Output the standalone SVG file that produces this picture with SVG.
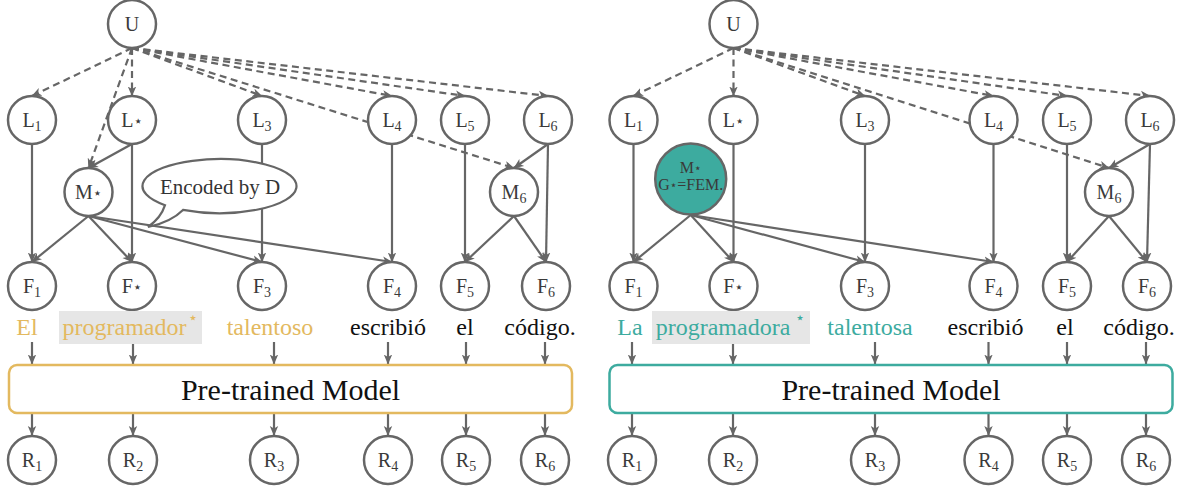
<svg xmlns="http://www.w3.org/2000/svg" width="1186" height="490" viewBox="0 0 1186 490">
<defs>
<style>
.n{fill:#fff;stroke:#666;stroke-width:2.5}
.e{stroke:#666;stroke-width:2.2;fill:none}
.d{stroke:#666;stroke-width:2.2;fill:none;stroke-dasharray:7 4.5}
.nl{font-family:'Liberation Serif','Times New Roman','DejaVu Serif',serif;font-size:20px;fill:#3a3a3a;text-anchor:middle}
.sub{font-size:14px}
.st{font-family:'DejaVu Sans',sans-serif;font-size:15px}
.w{font-family:'Liberation Serif','Times New Roman','DejaVu Serif',serif;font-size:24px;text-anchor:middle}
.gold{fill:#e3b95f}
.teal{fill:#3dab9f}
.blk{fill:#111}
.hl{fill:#e6e6e6}
.box{fill:#fff;stroke-width:2.5}
.bt{font-family:'Liberation Serif','Times New Roman','DejaVu Serif',serif;font-size:30px;fill:#111;text-anchor:middle}
.bb{font-family:'Liberation Serif','Times New Roman','DejaVu Serif',serif;font-size:21px;fill:#333;text-anchor:middle}
.ws{font-family:'DejaVu Sans',sans-serif;font-size:16px;text-anchor:middle}
</style>
<marker id="ah" viewBox="0 0 10 10" refX="9.5" refY="5" markerWidth="10" markerHeight="10" markerUnits="userSpaceOnUse" orient="auto">
<path d="M0,0.8 L10,5 L0,9.2 L2.6,5 z" fill="#666"/>
</marker>
</defs>
<rect width="1186" height="490" fill="#fff"/>

<g id="connectors">
<g marker-end="url(#ah)">
<line class="d" x1="132" y1="48" x2="32" y2="96"/>
<line class="d" x1="132" y1="48" x2="132" y2="96"/>
<line class="d" x1="132" y1="48" x2="262" y2="96"/>
<line class="d" x1="132" y1="48" x2="392" y2="96"/>
<line class="d" x1="132" y1="48" x2="465" y2="96"/>
<line class="d" x1="132" y1="48" x2="548" y2="96"/>
<line class="d" x1="132" y1="48" x2="88.5" y2="168"/>
<line class="d" x1="132" y1="48" x2="514" y2="168"/>
<line class="e" x1="32" y1="144" x2="32" y2="262"/>
<line class="e" x1="132" y1="144" x2="88.5" y2="168"/>
<line class="e" x1="132" y1="144" x2="132" y2="262"/>
<line class="e" x1="262" y1="144" x2="262" y2="262"/>
<line class="e" x1="392" y1="144" x2="392" y2="262"/>
<line class="e" x1="465" y1="144" x2="465" y2="262"/>
<line class="e" x1="548" y1="144" x2="546" y2="262"/>
<line class="e" x1="548" y1="144" x2="514" y2="168"/>
<line class="e" x1="88.5" y1="216" x2="32" y2="262"/>
<line class="e" x1="88.5" y1="216" x2="132" y2="262"/>
<line class="e" x1="88.5" y1="216" x2="262" y2="262"/>
<line class="e" x1="88.5" y1="216" x2="392" y2="262"/>
<line class="e" x1="514" y1="216" x2="465" y2="262"/>
<line class="e" x1="514" y1="216" x2="546" y2="262"/>
<line class="e" x1="32" y1="342" x2="32" y2="364"/>
<line class="e" x1="133" y1="342" x2="133" y2="364"/>
<line class="e" x1="274" y1="342" x2="274" y2="364"/>
<line class="e" x1="388" y1="342" x2="388" y2="364"/>
<line class="e" x1="466" y1="342" x2="466" y2="364"/>
<line class="e" x1="545" y1="342" x2="545" y2="364"/>
<line class="e" x1="32" y1="413" x2="32" y2="435.5"/>
<line class="e" x1="133" y1="413" x2="133" y2="435.5"/>
<line class="e" x1="274" y1="413" x2="274" y2="435.5"/>
<line class="e" x1="388" y1="413" x2="388" y2="435.5"/>
<line class="e" x1="466" y1="413" x2="466" y2="435.5"/>
<line class="e" x1="545" y1="413" x2="545" y2="435.5"/>

<line class="d" x1="733.5" y1="48" x2="633.5" y2="96"/>
<line class="d" x1="733.5" y1="48" x2="733.5" y2="96"/>
<line class="d" x1="733.5" y1="48" x2="865" y2="96"/>
<line class="d" x1="733.5" y1="48" x2="993.5" y2="96"/>
<line class="d" x1="733.5" y1="48" x2="1067" y2="96"/>
<line class="d" x1="733.5" y1="48" x2="1150" y2="96"/>
<line class="d" x1="733.5" y1="48" x2="1109" y2="168"/>
<line class="e" x1="633.5" y1="144" x2="633.5" y2="262"/>
<line class="e" x1="733.5" y1="144" x2="733.5" y2="262"/>
<line class="e" x1="865" y1="144" x2="865" y2="262"/>
<line class="e" x1="993.5" y1="144" x2="993.5" y2="262"/>
<line class="e" x1="1067" y1="144" x2="1067" y2="262"/>
<line class="e" x1="1150" y1="144" x2="1147" y2="262"/>
<line class="e" x1="1150" y1="144" x2="1109" y2="168"/>
<line class="e" x1="690.7" y1="215" x2="633.5" y2="262"/>
<line class="e" x1="690.7" y1="215" x2="733.5" y2="262"/>
<line class="e" x1="690.7" y1="215" x2="865" y2="262"/>
<line class="e" x1="690.7" y1="215" x2="993.5" y2="262"/>
<line class="e" x1="1109" y1="216" x2="1067" y2="262"/>
<line class="e" x1="1109" y1="216" x2="1147" y2="262"/>
<line class="e" x1="632" y1="342" x2="632" y2="364"/>
<line class="e" x1="733" y1="342" x2="733" y2="364"/>
<line class="e" x1="875" y1="342" x2="875" y2="364"/>
<line class="e" x1="988.5" y1="342" x2="988.5" y2="364"/>
<line class="e" x1="1067" y1="342" x2="1067" y2="364"/>
<line class="e" x1="1146" y1="342" x2="1146" y2="364"/>
<line class="e" x1="632" y1="413" x2="632" y2="435.5"/>
<line class="e" x1="733" y1="413" x2="733" y2="435.5"/>
<line class="e" x1="875" y1="413" x2="875" y2="435.5"/>
<line class="e" x1="988.5" y1="413" x2="988.5" y2="435.5"/>
<line class="e" x1="1067" y1="413" x2="1067" y2="435.5"/>
<line class="e" x1="1146" y1="413" x2="1146" y2="435.5"/>
</g>
</g>

<g id="L-U"><circle class="n" cx="132" cy="24" r="24"/><text class="nl" x="132" y="31">U</text></g>
<g id="L-L1"><circle class="n" cx="32" cy="120" r="24"/><text class="nl" x="32" y="127">L<tspan class="sub" dy="4">1</tspan></text></g>
<g id="L-Lstar"><circle class="n" cx="132" cy="120" r="24"/><text class="nl" x="132" y="127">L<tspan class="st" dy="-1">⋆</tspan></text></g>
<g id="L-L3"><circle class="n" cx="262" cy="120" r="24"/><text class="nl" x="262" y="127">L<tspan class="sub" dy="4">3</tspan></text></g>
<g id="L-L4"><circle class="n" cx="392" cy="120" r="24"/><text class="nl" x="392" y="127">L<tspan class="sub" dy="4">4</tspan></text></g>
<g id="L-L5"><circle class="n" cx="465" cy="120" r="24"/><text class="nl" x="465" y="127">L<tspan class="sub" dy="4">5</tspan></text></g>
<g id="L-L6"><circle class="n" cx="548" cy="120" r="24"/><text class="nl" x="548" y="127">L<tspan class="sub" dy="4">6</tspan></text></g>
<g id="L-Mstar"><circle class="n" cx="88.5" cy="192" r="24"/><text class="nl" x="88.5" y="199">M<tspan class="st" dy="-1">⋆</tspan></text></g>
<g id="L-M6"><circle class="n" cx="514" cy="192" r="24"/><text class="nl" x="514" y="199">M<tspan class="sub" dy="4">6</tspan></text></g>
<g id="L-F1"><circle class="n" cx="32" cy="286" r="24"/><text class="nl" x="32" y="293">F<tspan class="sub" dy="4">1</tspan></text></g>
<g id="L-Fstar"><circle class="n" cx="132" cy="286" r="24"/><text class="nl" x="132" y="293">F<tspan class="st" dy="-1">⋆</tspan></text></g>
<g id="L-F3"><circle class="n" cx="262" cy="286" r="24"/><text class="nl" x="262" y="293">F<tspan class="sub" dy="4">3</tspan></text></g>
<g id="L-F4"><circle class="n" cx="392" cy="286" r="24"/><text class="nl" x="392" y="293">F<tspan class="sub" dy="4">4</tspan></text></g>
<g id="L-F5"><circle class="n" cx="465" cy="286" r="24"/><text class="nl" x="465" y="293">F<tspan class="sub" dy="4">5</tspan></text></g>
<g id="L-F6"><circle class="n" cx="546" cy="286" r="24"/><text class="nl" x="546" y="293">F<tspan class="sub" dy="4">6</tspan></text></g>
<g id="L-R1"><circle class="n" cx="32" cy="460" r="24"/><text class="nl" x="32" y="467">R<tspan class="sub" dy="4">1</tspan></text></g>
<g id="L-R2"><circle class="n" cx="133" cy="460" r="24"/><text class="nl" x="133" y="467">R<tspan class="sub" dy="4">2</tspan></text></g>
<g id="L-R3"><circle class="n" cx="274" cy="460" r="24"/><text class="nl" x="274" y="467">R<tspan class="sub" dy="4">3</tspan></text></g>
<g id="L-R4"><circle class="n" cx="388" cy="460" r="24"/><text class="nl" x="388" y="467">R<tspan class="sub" dy="4">4</tspan></text></g>
<g id="L-R5"><circle class="n" cx="466" cy="460" r="24"/><text class="nl" x="466" y="467">R<tspan class="sub" dy="4">5</tspan></text></g>
<g id="L-R6"><circle class="n" cx="545" cy="460" r="24"/><text class="nl" x="545" y="467">R<tspan class="sub" dy="4">6</tspan></text></g>

<g id="L-bubble">
<path d="M183,209.9 A77,27 0 1 0 165,205.2 Q161,218 148,227 Q171,222 183,209.9 Z" fill="#fff" stroke="#666" stroke-width="2.2"/>
<text class="bb" x="220" y="194">Encoded by D</text>
</g>

<g id="L-words">
<rect class="hl" x="59" y="311" width="143" height="33"/>
<text class="w gold" x="27" y="335">El</text>
<text class="w gold" x="124.5" y="335">programador</text>
<text class="ws gold" x="193" y="323">⋆</text>
<text class="w gold" x="270" y="335">talentoso</text>
<text class="w blk" x="388" y="335">escribió</text>
<text class="w blk" x="465" y="335">el</text>
<text class="w blk" x="540" y="335">código.</text>
</g>
<g id="L-model">
<rect class="box" x="9" y="365" width="563" height="48" rx="8" stroke="#e3b95f"/>
<text class="bt" x="290.5" y="400">Pre-trained Model</text>
</g>

<g id="R-U"><circle class="n" cx="733.5" cy="24" r="24"/><text class="nl" x="733.5" y="31">U</text></g>
<g id="R-L1"><circle class="n" cx="633.5" cy="120" r="24"/><text class="nl" x="633.5" y="127">L<tspan class="sub" dy="4">1</tspan></text></g>
<g id="R-Lstar"><circle class="n" cx="733.5" cy="120" r="24"/><text class="nl" x="733.5" y="127">L<tspan class="st" dy="-1">⋆</tspan></text></g>
<g id="R-L3"><circle class="n" cx="865" cy="120" r="24"/><text class="nl" x="865" y="127">L<tspan class="sub" dy="4">3</tspan></text></g>
<g id="R-L4"><circle class="n" cx="993.5" cy="120" r="24"/><text class="nl" x="993.5" y="127">L<tspan class="sub" dy="4">4</tspan></text></g>
<g id="R-L5"><circle class="n" cx="1067" cy="120" r="24"/><text class="nl" x="1067" y="127">L<tspan class="sub" dy="4">5</tspan></text></g>
<g id="R-L6"><circle class="n" cx="1150" cy="120" r="24"/><text class="nl" x="1150" y="127">L<tspan class="sub" dy="4">6</tspan></text></g>
<g id="R-Mstar"><circle cx="690.7" cy="179" r="35.5" fill="#3dab9f" stroke="#666" stroke-width="2.5"/>
<text class="nl" x="690.7" y="173" style="font-size:16px">M<tspan class="st" style="font-size:12px" dy="-1">⋆</tspan></text>
<text class="nl" x="690.7" y="190" style="font-size:16px">G<tspan class="st" style="font-size:12px" dy="-1">⋆</tspan><tspan dy="1">=FEM.</tspan></text></g>
<g id="R-M6"><circle class="n" cx="1109" cy="192" r="24"/><text class="nl" x="1109" y="199">M<tspan class="sub" dy="4">6</tspan></text></g>
<g id="R-F1"><circle class="n" cx="633.5" cy="286" r="24"/><text class="nl" x="633.5" y="293">F<tspan class="sub" dy="4">1</tspan></text></g>
<g id="R-Fstar"><circle class="n" cx="733.5" cy="286" r="24"/><text class="nl" x="733.5" y="293">F<tspan class="st" dy="-1">⋆</tspan></text></g>
<g id="R-F3"><circle class="n" cx="865" cy="286" r="24"/><text class="nl" x="865" y="293">F<tspan class="sub" dy="4">3</tspan></text></g>
<g id="R-F4"><circle class="n" cx="993.5" cy="286" r="24"/><text class="nl" x="993.5" y="293">F<tspan class="sub" dy="4">4</tspan></text></g>
<g id="R-F5"><circle class="n" cx="1067" cy="286" r="24"/><text class="nl" x="1067" y="293">F<tspan class="sub" dy="4">5</tspan></text></g>
<g id="R-F6"><circle class="n" cx="1147" cy="286" r="24"/><text class="nl" x="1147" y="293">F<tspan class="sub" dy="4">6</tspan></text></g>
<g id="R-R1"><circle class="n" cx="632" cy="460" r="24"/><text class="nl" x="632" y="467">R<tspan class="sub" dy="4">1</tspan></text></g>
<g id="R-R2"><circle class="n" cx="733" cy="460" r="24"/><text class="nl" x="733" y="467">R<tspan class="sub" dy="4">2</tspan></text></g>
<g id="R-R3"><circle class="n" cx="875" cy="460" r="24"/><text class="nl" x="875" y="467">R<tspan class="sub" dy="4">3</tspan></text></g>
<g id="R-R4"><circle class="n" cx="988.5" cy="460" r="24"/><text class="nl" x="988.5" y="467">R<tspan class="sub" dy="4">4</tspan></text></g>
<g id="R-R5"><circle class="n" cx="1067" cy="460" r="24"/><text class="nl" x="1067" y="467">R<tspan class="sub" dy="4">5</tspan></text></g>
<g id="R-R6"><circle class="n" cx="1146" cy="460" r="24"/><text class="nl" x="1146" y="467">R<tspan class="sub" dy="4">6</tspan></text></g>

<g id="R-words">
<rect class="hl" x="652" y="311" width="158" height="33"/>
<text class="w teal" x="630" y="335">La</text>
<text class="w teal" x="723" y="335">programadora</text>
<text class="ws teal" x="800" y="323">⋆</text>
<text class="w teal" x="870" y="335">talentosa</text>
<text class="w blk" x="985.5" y="335">escribió</text>
<text class="w blk" x="1065" y="335">el</text>
<text class="w blk" x="1139" y="335">código.</text>
</g>
<g id="R-model">
<rect class="box" x="609.5" y="365" width="563" height="48" rx="8" stroke="#3dab9f"/>
<text class="bt" x="891" y="400">Pre-trained Model</text>
</g>
</svg>
